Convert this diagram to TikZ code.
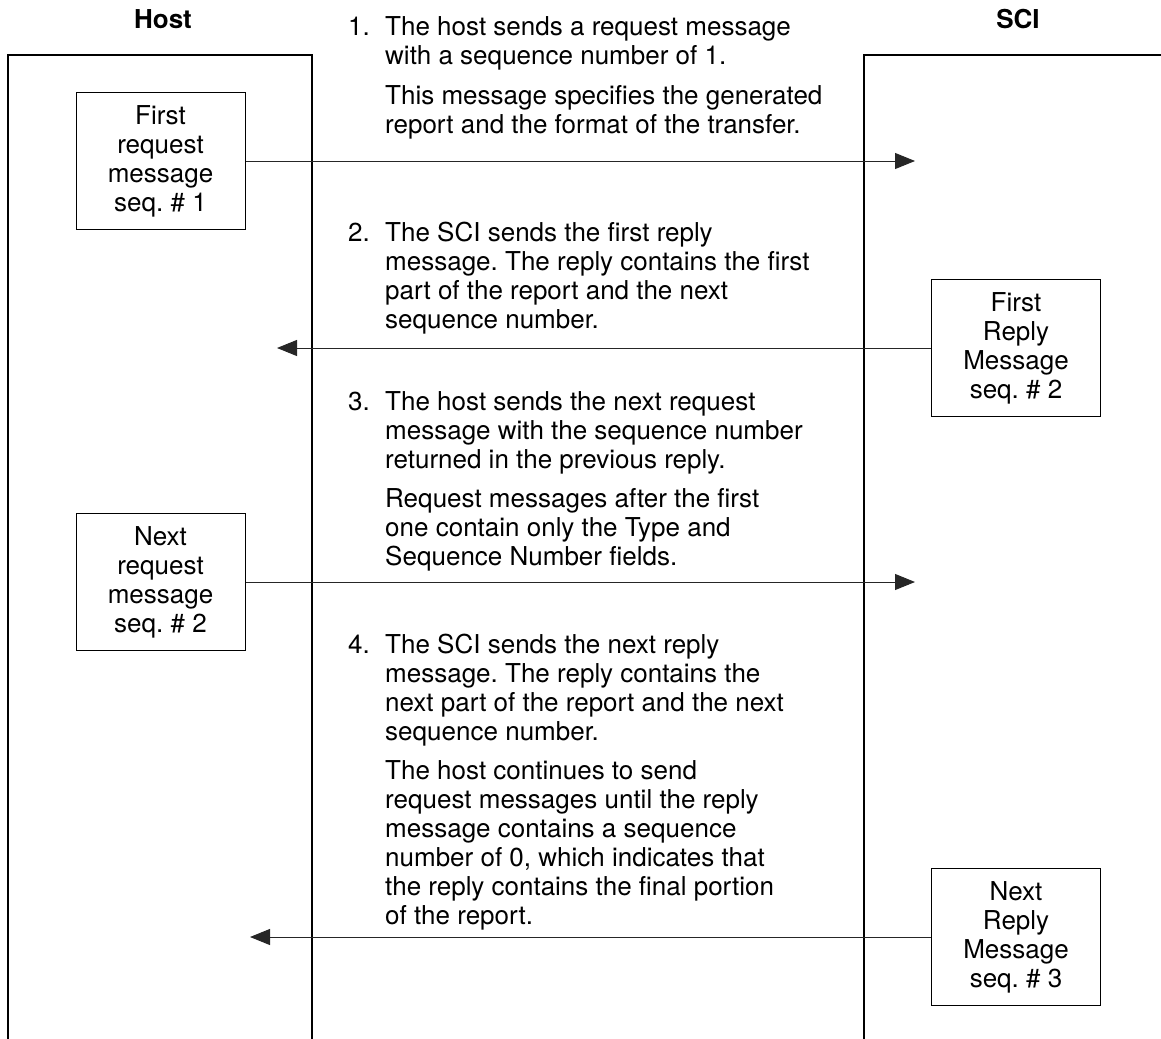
\documentclass[tikz,border=0pt]{standalone}
\usepackage{fontspec}
\setmainfont{TeX Gyre Heros}
\usetikzlibrary{arrows.meta}
\frenchspacing
\begin{document}
\begin{tikzpicture}[x=1pt,y=-1pt,
  every node/.style={font=\fontsize{26}{29}\selectfont, inner sep=0pt},
  laneline/.style={line width=1.3pt, black},
  msgbox/.style={draw, line width=1pt, minimum width=169pt, minimum height=137pt, align=center},
  msgarrow/.style={line width=1pt, black!85, -{Triangle[length=20pt,width=16pt]}},
  lanetitle/.style={font=\fontsize{26}{29}\selectfont\bfseries, anchor=base},
  stepnum/.style={anchor=base west},
  % multi-line paragraphs are placed by the baseline of their last line
  steppara/.style={anchor=base west, align=left}
]
\useasboundingbox (0,0) rectangle (1161,1038);

% lifeline frames
\draw[laneline] (8,1045) -- (8,55) -- (312,55) -- (312,1045);
\draw[laneline] (864,1045) -- (864,55) -- (1170,55);

% titles
\node[lanetitle] (host) at (163,29) {Host};
\node[lanetitle] (sci) at (1018,29) {SCI};

% message boxes
\node[msgbox] (req1) at (160.5,161) {First\\request\\message\\seq.~\#~1};
\node[msgbox] (rep1) at (1016,348) {First\\Reply\\Message\\seq.~\#~2};
\node[msgbox] (req2) at (160.5,582) {Next\\request\\message\\seq.~\#~2};
\node[msgbox] (rep2) at (1016,937) {Next\\Reply\\Message\\seq.~\#~3};

% step descriptions
\node[stepnum] (n1) at (348,36) {1.};
\node[steppara] (p1a) at (385,65) {The host sends a request message\\with a sequence number of 1.};
\node[steppara] (p1b) at (385,134) {This message specifies the generated\\report and the format of the transfer.};

\node[stepnum] (n2) at (348,241) {2.};
\node[steppara] (p2a) at (385,328) {The SCI sends the first reply\\message. The reply contains the first\\part of the report and the next\\sequence number.};

\node[stepnum] (n3) at (348,410) {3.};
\node[steppara] (p3a) at (385,468) {The host sends the next request\\message with the sequence number\\returned in the previous reply.};
\node[steppara] (p3b) at (385,565) {Request messages after the first\\one contain only the Type and\\Sequence Number fields.};

\node[stepnum] (n4) at (348,653) {4.};
\node[steppara] (p4a) at (385,740) {The SCI sends the next reply\\message. The reply contains the\\next part of the report and the next\\sequence number.};
\node[steppara] (p4b) at (385,924) {The host continues to send\\request messages until the reply\\message contains a sequence\\number of 0, which indicates that\\the reply contains the final portion\\of the report.};

% message arrows
\coordinate (t1) at (915,161);
\coordinate (t2) at (277,348);
\coordinate (t3) at (915,582);
\coordinate (t4) at (250,937);
\draw[msgarrow] (req1.east) -- (t1);
\draw[msgarrow] (rep1.west) -- (t2);
\draw[msgarrow] (req2.east) -- (t3);
\draw[msgarrow] (rep2.west) -- (t4);
\end{tikzpicture}
\end{document}
